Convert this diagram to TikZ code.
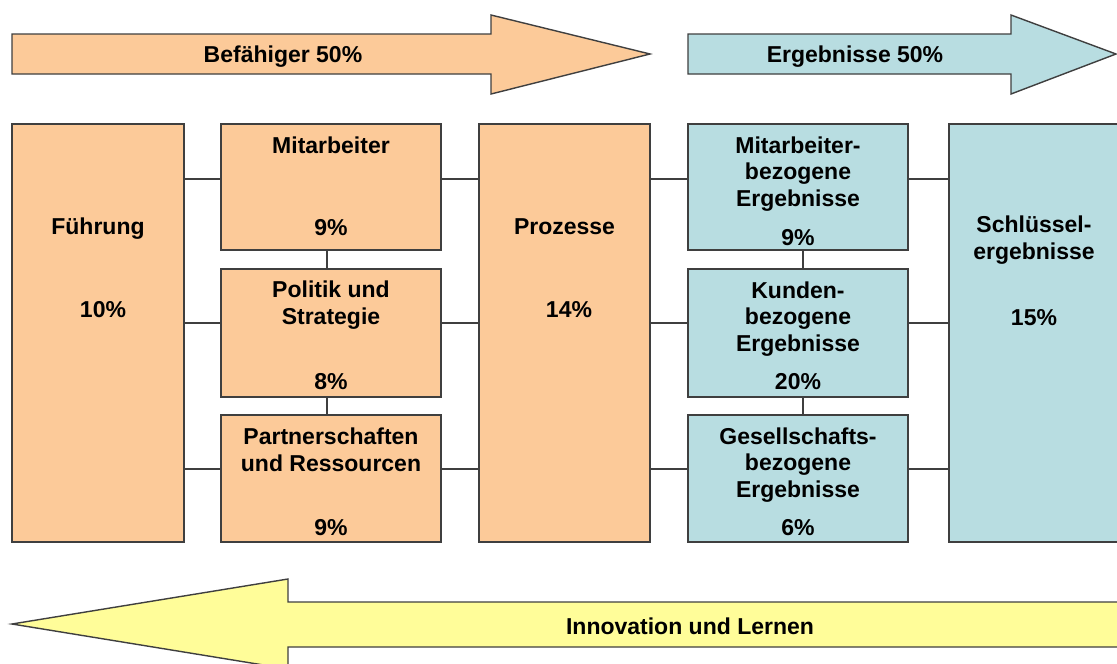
\documentclass[tikz,border=0pt]{standalone}
\usepackage{fontspec}
\setmainfont{Liberation Sans}
\definecolor{enabler}{HTML}{FCCA99}
\definecolor{result}{HTML}{B8DDE1}
\definecolor{learn}{HTML}{FFFD99}
\definecolor{edge}{HTML}{3F3F3F}
\begin{document}
\begin{tikzpicture}[x=1pt,y=-1pt,
  panel/.style={draw=edge,line width=1.4pt,inner sep=0pt,outer sep=0pt},
  orangebox/.style={panel,fill=enabler},
  tealbox/.style={panel,fill=result},
  banner/.style={draw=edge,line width=1.4pt,line join=miter},
  lbl/.style={font=\bfseries\fontsize{23}{26.5}\selectfont,anchor=base,inner sep=0pt,align=center,text=black},
  link/.style={draw=edge,line width=1.1pt}]
\clip (0,0) rectangle (1117,664);
\fill[white] (0,0) rectangle (1117,664);

% banner arrows
\draw[banner,fill=enabler] (12,34) -- (491,34) -- (491,15) -- (650,54) -- (491,94) -- (491,74) -- (12,74) -- cycle;
\draw[banner,fill=result] (688,34) -- (1011,34) -- (1011,15) -- (1116,54) -- (1011,94) -- (1011,74) -- (688,74) -- cycle;
\draw[banner,fill=learn] (1125,602) -- (288,602) -- (288,579) -- (12,624) -- (288,669) -- (288,647) -- (1125,647) -- cycle;
\node[lbl] (tEnab) at (283,62) {Befähiger 50\%};
\node[lbl] (tRes) at (855,62) {Ergebnisse 50\%};
\node[lbl] (tLearn) at (690,634) {Innovation und Lernen};

% criteria boxes
\node[orangebox,minimum width=172,minimum height=418] (fuehr) at (98,333) {};
\node[orangebox,minimum width=220,minimum height=126] (mitarb) at (331,187) {};
\node[orangebox,minimum width=220,minimum height=128] (polit) at (331,333) {};
\node[orangebox,minimum width=220,minimum height=127] (partn) at (331,478.5) {};
\node[orangebox,minimum width=171,minimum height=418] (proz) at (564.5,333) {};
\node[tealbox,minimum width=220,minimum height=126] (maerg) at (798,187) {};
\node[tealbox,minimum width=220,minimum height=128] (kund) at (798,333) {};
\node[tealbox,minimum width=220,minimum height=127] (gesell) at (798,478.5) {};
\node[tealbox,minimum width=176,minimum height=418] (schl) at (1037,333) {};

% connectors
\coordinate (r1) at (0,179);
\coordinate (r2) at (0,323);
\coordinate (r3) at (0,469);
\coordinate (cL) at (327,0);
\coordinate (cR) at (803,0);
\foreach \row/\a/\b in {r1/mitarb/maerg, r2/polit/kund, r3/partn/gesell}{
  \draw[link] (fuehr.east |- \row) -- (\a.west |- \row);
  \draw[link] (\a.east |- \row) -- (proz.west |- \row);
  \draw[link] (proz.east |- \row) -- (\b.west |- \row);
  \draw[link] (\b.east |- \row) -- (schl.west |- \row);
}
\draw[link] (mitarb.south -| cL) -- (polit.north -| cL);
\draw[link] (polit.south -| cL) -- (partn.north -| cL);
\draw[link] (maerg.south -| cR) -- (kund.north -| cR);
\draw[link] (kund.south -| cR) -- (gesell.north -| cR);

% box texts (multi-line labels are anchored at the baseline of their last line)
\node[lbl] (tF1) at (98,234) {Führung};
\node[lbl] (tF2) at (103,317) {10\%};
\node[lbl] (tM1) at (331,153) {Mitarbeiter};
\node[lbl] (tM2) at (331,235) {9\%};
\node[lbl] (tP1) at (331,324) {Politik und\\Strategie};
\node[lbl] (tP2) at (331,389) {8\%};
\node[lbl] (tR1) at (331,471) {Partnerschaften\\und Ressourcen};
\node[lbl] (tR2) at (331,535) {9\%};
\node[lbl] (tZ1) at (564.5,234) {Prozesse};
\node[lbl] (tZ2) at (569,317) {14\%};
\node[lbl] (tE1) at (798,206) {Mitarbeiter-\\bezogene\\Ergebnisse};
\node[lbl] (tE2) at (798,245) {9\%};
\node[lbl] (tK1) at (798,351) {Kunden-\\bezogene\\Ergebnisse};
\node[lbl] (tK2) at (798,389) {20\%};
\node[lbl] (tG1) at (798,497) {Gesellschafts-\\bezogene\\Ergebnisse};
\node[lbl] (tG2) at (798,535) {6\%};
\node[lbl] (tS1) at (1034,259) {Schlüssel-\\ergebnisse};
\node[lbl] (tS2) at (1034,325) {15\%};
\end{tikzpicture}
\end{document}
